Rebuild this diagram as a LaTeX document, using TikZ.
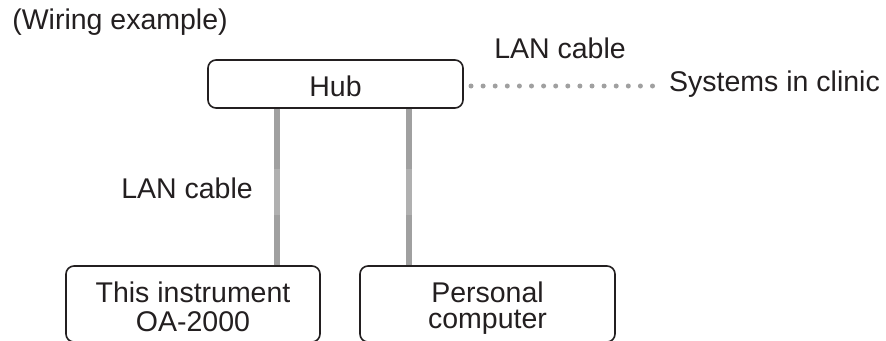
\documentclass[tikz,border=0pt]{standalone}
\usepackage{fontspec}
\setmainfont{Liberation Sans}
\definecolor{ink}{HTML}{231F20}
\definecolor{cablegray}{HTML}{A0A0A0}
\definecolor{cablelight}{HTML}{B0B0B0}
\definecolor{dotgray}{HTML}{A0A0A0}
\begin{document}
\begin{tikzpicture}[x=1pt,y=-1pt,
  box/.style={draw=ink, line width=1.6pt, rounded corners=8pt, inner sep=0pt, fill=white},
  lbl/.style={text=ink, font=\fontsize{28.5}{30}\selectfont, inner sep=0pt},
  cable/.style={draw=cablegray, line width=6.5pt},
  cablemid/.style={draw=cablelight, line width=6.5pt},
  dots/.style={draw=dotgray, line width=5pt, line cap=round, dash pattern=on 0pt off 12.1pt}]
\useasboundingbox[fill=white] (0,0) rectangle (886,340);

\node[lbl] (title) at (120,22) {(Wiring example)};

\node[box, minimum width=255pt, minimum height=48pt] (hub) at (335.5,84) {};
\node[lbl] (hubtxt) at (335.5,86) {Hub};

\node[box, minimum width=254pt, minimum height=76pt] (inst) at (193,304) {};
\node[lbl] (insttxt1) at (193,292) {This instrument};
\node[lbl] (insttxt2) at (193,322) {OA-2000};

\node[box, minimum width=255pt, minimum height=76pt] (pc) at (487.5,304) {};
\node[lbl] (pctxt1) at (487.5,292) {Personal};
\node[lbl] (pctxt2) at (487.5,322) {computer};

\coordinate (c1) at (277,190);
\coordinate (c2) at (409,190);
\coordinate (m1) at (0,169);
\coordinate (m2) at (0,215);

\draw[cable] (c1 |- hub.south) -- (c1 |- inst.north);
\draw[cable] (c2 |- hub.south) -- (c2 |- pc.north);
\draw[cablemid] (c1 |- m1) -- (c1 |- m2);
\draw[cablemid] (c2 |- m1) -- (c2 |- m2);

\node[lbl] (lan1) at (187,188) {LAN cable};

\node[lbl, anchor=west] (sys) at (669,84) {Systems in clinic};
\node[lbl] (lan2) at (560,48) {LAN cable};
\coordinate (dstart) at (471,86);
\coordinate (dend) at (654,86);
\draw[dots] (dstart) -- (dend);
\end{tikzpicture}
\end{document}
